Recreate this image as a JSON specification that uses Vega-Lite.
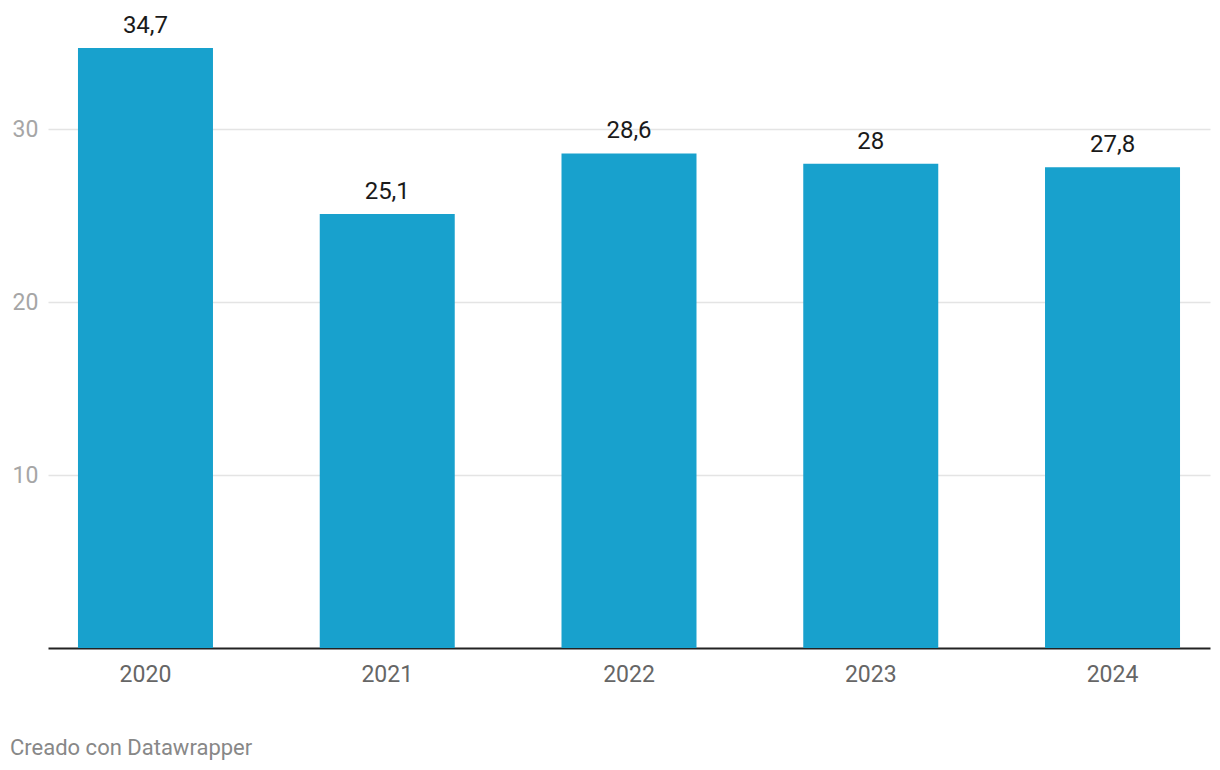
{
  "$schema": "https://vega.github.io/schema/vega-lite/v6.json",
  "width": 1162,
  "height": 600,
  "padding": {"left": 48, "top": 48, "right": 10, "bottom": 122},
  "autosize": {"type": "none"},
  "background": "white",
  "config": {
    "font": "Roboto",
    "view": {"stroke": null},
    "locale": {"number": {"decimal": ",", "thousands": ".", "grouping": [3], "currency": ["", " €"]}}
  },
  "title": {
    "text": "Creado con Datawrapper",
    "orient": "bottom",
    "anchor": "start",
    "frame": "group",
    "dx": -38,
    "offset": 52,
    "fontSize": 22,
    "fontWeight": "normal",
    "color": "#888888",
    "font": "Roboto"
  },
  "data": {
    "values": [
      {"year": "2020", "value": 34.7},
      {"year": "2021", "value": 25.1},
      {"year": "2022", "value": 28.6},
      {"year": "2023", "value": 28.0},
      {"year": "2024", "value": 27.8}
    ]
  },
  "encoding": {
    "x": {
      "field": "year",
      "type": "nominal",
      "scale": {"paddingInner": 0.4416, "paddingOuter": 0.124},
      "axis": {
        "title": null,
        "labelAngle": 0,
        "ticks": false,
        "domain": true,
        "domainColor": "#222222",
        "domainWidth": 2,
        "labelFontSize": 23,
        "labelColor": "#666666",
        "labelPadding": 15,
        "labelFont": "Roboto"
      }
    },
    "y": {
      "field": "value",
      "type": "quantitative",
      "scale": {"domain": [0, 34.7], "nice": false, "zero": true},
      "axis": {
        "title": null,
        "values": [10, 20, 30],
        "ticks": false,
        "domain": false,
        "grid": true,
        "gridColor": "#e4e4e4",
        "gridWidth": 1.5,
        "labelAlign": "left",
        "labelBaseline": "middle",
        "labelPadding": 36,
        "labelFontSize": 23,
        "labelColor": "#a6a6a6",
        "labelFont": "Roboto"
      }
    }
  },
  "layer": [
    {"mark": {"type": "bar", "color": "#18a1cd"}},
    {
      "mark": {"type": "text", "baseline": "alphabetic", "dy": -15, "fontSize": 24, "color": "#1a1a1a", "font": "Roboto", "clip": false},
      "encoding": {"text": {"field": "value", "type": "quantitative", "format": ".1~f"}}
    }
  ]
}
